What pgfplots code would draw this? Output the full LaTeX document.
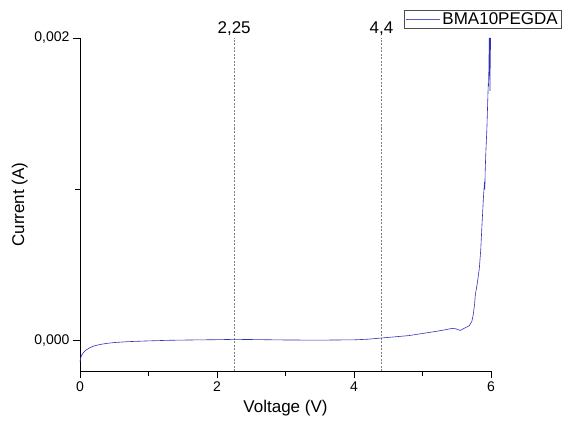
\documentclass[border=0pt]{standalone}
\usepackage{fontspec}
\setmainfont{Liberation Sans}
\usepackage{pgfplots}
\pgfplotsset{compat=1.18}
\definecolor{curve}{RGB}{50,50,185}
\begin{document}
\begin{tikzpicture}[x=1pt,y=1pt]
\begin{axis}[
  scale only axis,
  width=411pt, height=333pt,
  xmin=0, xmax=6, ymin=-0.0002, ymax=0.002,
  axis lines*=left,
  axis line style={line width=0.8pt},
  tick align=outside,
  xtick={0,2,4,6}, minor xtick={1,3,5},
  ytick={0,0.002}, minor ytick={0.001},
  major tick length=7pt, minor tick length=4.5pt,
  tick style={black, line width=0.8pt},
  scaled y ticks=false,
  yticklabel style={/pgf/number format/.cd, fixed, fixed zerofill, precision=3, use comma},
  /pgf/number format/assume math mode=true,
  ticklabel style={font=\fontsize{14}{16}\selectfont},
  xlabel={Voltage (V)}, ylabel={Current (A)},
  label style={font=\fontsize{17}{20}\selectfont},
  xlabel style={yshift=-2pt},
  ylabel style={yshift=0pt},
  clip=false,
  legend style={at={(rel axis cs:0.7883,1.0841)}, anchor=north west,
    draw=black!70, line width=0.6pt, font=\fontsize{17}{19}\selectfont,
    inner xsep=2pt, inner ysep=0.5pt, outer sep=0pt,
    legend cell align=left},
  legend image code/.code={\draw[mark repeat=2,mark phase=2] plot coordinates {(0pt,0pt) (17pt,0pt) (34pt,0pt)};},
  legend image post style={line width=0.5pt, color=curve!80},
]
\path[use as bounding box] (rel axis cs:-0.1946,-0.1622) rectangle (rel axis cs:1.1849,1.1141);
\addplot[gray, dash pattern=on 2pt off 1.5pt, line width=0.7pt, forget plot] coordinates {(2.25,-0.0002) (2.25,0.002)};
\addplot[gray, dash pattern=on 2pt off 1.5pt, line width=0.7pt, forget plot] coordinates {(4.4,-0.0002) (4.4,0.002)};
\node[anchor=south, font=\fontsize{17}{19}\selectfont, inner sep=2pt] at (axis cs:2.25,0.002) {2,25};
\node[anchor=south, font=\fontsize{17}{19}\selectfont, inner sep=2pt] at (axis cs:4.4,0.002) {4,4};
\addplot[curve, line width=0.6pt] coordinates {
(0,-0.000140) (0.01,-0.000115) (0.02,-0.000100) (0.04,-0.000085) (0.07,-0.000068)
(0.1,-0.000058) (0.15,-0.000045) (0.2,-0.000035) (0.3,-0.000024) (0.4,-0.000017)
(0.5,-0.000012) (0.7,-0.000006) (1.0,-0.000001) (1.3,0.000003) (1.6,0.000005)
(2.0,0.000007) (2.25,0.000009) (2.5,0.000008) (3.0,0.000005) (3.5,0.000004)
(4.0,0.000006) (4.2,0.000010) (4.4,0.000018) (4.6,0.000026) (4.8,0.000034)
(5.0,0.000048) (5.1,0.000055) (5.2,0.000062) (5.3,0.000070) (5.35,0.000074)
(5.4,0.000079) (5.45,0.000082) (5.5,0.000077) (5.55,0.000068) (5.6,0.000080)
(5.65,0.000092) (5.68,0.000098) (5.7,0.000112) (5.72,0.000128) (5.74,0.000170)
(5.76,0.000240) (5.77,0.000300) (5.80,0.000380) (5.83,0.000480) (5.85,0.000600)
(5.87,0.000780) (5.89,0.000950) (5.905,0.001050) (5.91,0.001000) (5.915,0.001120)
(5.925,0.001250) (5.94,0.001400) (5.95,0.001550) (5.96,0.001700) (5.965,0.001680)
(5.97,0.001850) (5.975,0.002000) (5.978,0.001750) (5.982,0.002000) (5.985,0.001650)
(5.988,0.002000) (5.99,0.001800) (5.993,0.002000)
};
\addlegendentry{BMA10PEGDA}
\end{axis}
\end{tikzpicture}
\end{document}
